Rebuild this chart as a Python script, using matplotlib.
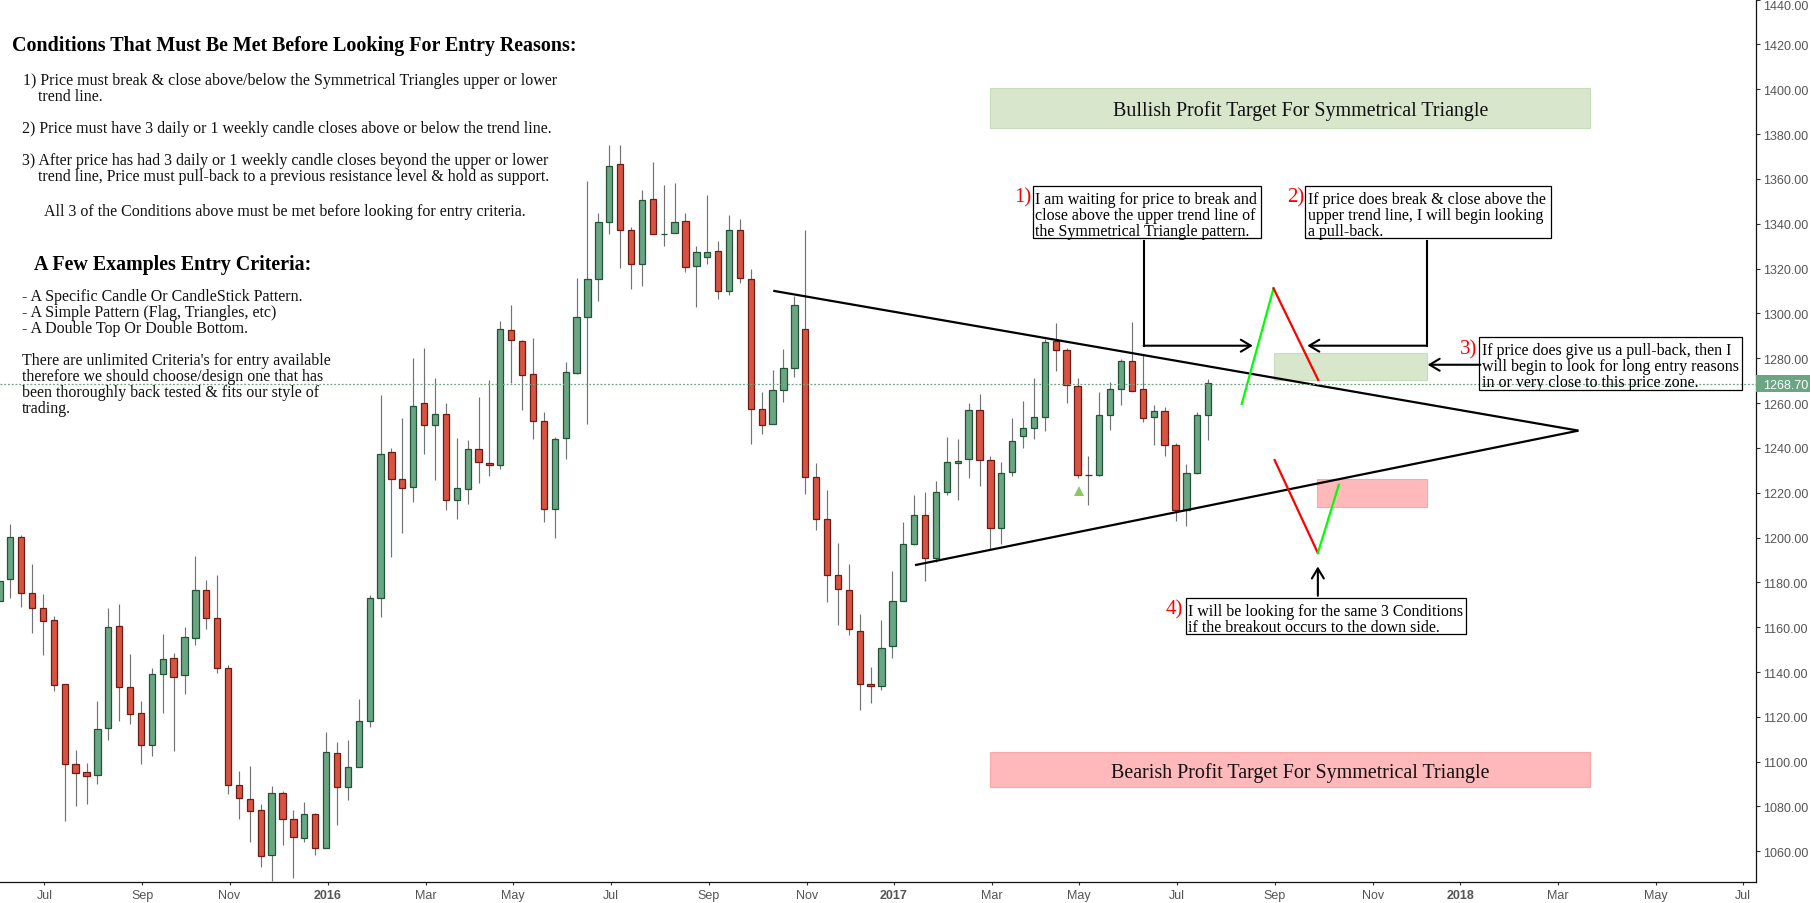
import matplotlib
matplotlib.use("Agg")
import matplotlib.pyplot as plt
from matplotlib.patches import Rectangle

W, H = 1810, 904
SERIF = "Liberation Serif"
SANS = "Liberation Sans"

# Weekly candles (index = week number): open, high, low, close
opens = [1171.6,1181.4,1200.1,1175.1,1168.4,1163.1,1134.5,1098.8,1095.3,1093.9,1114.9,1160.4,1133.2,1121.6,1107.3,1139.0,
         1146.1,1138.5,1155.1,1176.5,1164.0,1141.7,1089.5,1083.2,1078.3,1058.2,1085.9,1074.3,1065.8,1076.5,1061.3,1103.7,
         1088.6,1097.5,1118.0,1172.9,1238.1,1226.0,1222.4,1259.9,1250.1,1255.0,1216.6,1221.5,1239.4,1233.1,1232.2,1292.5,
         1287.6,1272.8,1251.9,1212.6,1244.3,1273.3,1298.3,1315.2,1340.7,1366.5,1337.1,1321.9,1350.9,1335.3,1335.7,1341.1,
         1321.0,1325.0,1327.7,1309.9,1337.1,1315.2,1257.2,1250.5,1265.7,1275.5,1292.9,1226.8,1208.1,1183.5,1176.4,1158.1,
         1134.5,1133.6,1151.4,1171.9,1196.9,1209.9,1190.7,1220.1,1233.1,1234.9,1256.7,1234.4,1204.1,1229.1,1245.1,1248.7,
         1254.0,1287.5,1283.9,1267.4,1228.0,1228.0,1254.9,1266.5,1278.6,1266.5,1253.6,1256.3,1241.1,1212.5,1228.6,1254.9]
highs = [1180.8,1206.1,1201.2,1188.2,1174.8,1164.9,1134.5,1105.2,1099.4,1127.1,1168.6,1170.4,1148.1,1127.1,1141.8,1157.0,
         1148.5,1160.1,1191.8,1181.1,1183.3,1143.2,1095.9,1098.1,1081.1,1089.2,1086.9,1078.5,1082.0,1077.1,1113.3,1108.8,
         1109.7,1128.0,1174.4,1263.6,1240.0,1253.3,1280.1,1284.6,1271.2,1259.9,1244.4,1243.5,1262.7,1270.3,1296.6,1303.8,
         1288.1,1289.0,1255.9,1244.7,1278.3,1315.8,1359.1,1344.8,1375.2,1375.2,1338.4,1355.1,1367.6,1357.3,1358.2,1344.8,
         1330.1,1352.8,1332.3,1343.9,1342.1,1319.8,1264.9,1274.8,1284.1,1307.9,1337.2,1233.1,1221.2,1197.5,1188.2,1165.8,
         1142.2,1163.2,1185.0,1206.9,1218.9,1220.3,1225.2,1244.8,1243.9,1260.0,1264.0,1236.6,1233.7,1253.3,1260.9,1271.2,
         1288.6,1295.7,1284.4,1271.2,1236.3,1264.9,1269.2,1279.6,1296.1,1281.3,1259.1,1258.2,1242.4,1232.8,1255.8,1270.7]
lows = [1171.6,1173.2,1169.2,1157.6,1147.8,1131.7,1073.7,1080.4,1081.3,1090.2,1109.8,1118.3,1116.8,1099.1,1102.7,1121.9,
        1104.9,1130.4,1152.2,1159.4,1139.7,1085.7,1074.6,1064.3,1053.2,1046.9,1063.0,1048.3,1064.3,1058.5,1061.3,1071.9,
        1083.1,1097.5,1115.6,1164.7,1191.5,1202.2,1216.0,1237.4,1225.8,1212.4,1208.4,1215.1,1224.5,1227.6,1230.7,1268.8,
        1257.1,1244.1,1207.1,1199.9,1235.2,1272.8,1250.8,1305.7,1335.6,1320.4,1311.1,1312.4,1335.3,1330.2,1335.7,1318.6,
        1303.0,1322.1,1306.6,1308.4,1313.7,1241.9,1246.4,1250.5,1260.6,1271.8,1219.6,1203.5,1171.3,1161.1,1156.6,1123.2,
        1126.3,1132.1,1146.4,1171.9,1196.5,1180.7,1188.9,1218.9,1216.9,1226.7,1223.1,1195.1,1197.2,1227.3,1240.1,1244.1,
        1247.7,1274.4,1260.1,1226.4,1214.6,1227.3,1248.1,1259.3,1265.2,1251.7,1241.4,1236.5,1207.5,1205.3,1228.2,1243.6]
closes = [1180.8,1200.1,1175.1,1168.4,1162.6,1134.1,1098.8,1094.8,1093.5,1114.4,1160.0,1133.2,1121.1,1107.3,1139.0,1145.7,
          1137.7,1155.5,1176.5,1164.0,1141.7,1089.5,1083.7,1077.9,1057.8,1085.9,1074.3,1066.3,1076.5,1061.3,1104.2,1088.6,
          1097.5,1118.0,1172.9,1237.2,1226.0,1222.0,1258.5,1250.1,1255.0,1216.6,1222.0,1239.4,1233.6,1232.2,1292.9,1288.0,
          1272.4,1251.9,1212.6,1243.8,1273.7,1298.3,1315.2,1340.7,1365.6,1337.1,1321.9,1350.5,1335.3,1335.3,1340.7,1320.6,
          1327.3,1327.3,1309.9,1337.1,1315.7,1257.2,1250.1,1265.7,1275.5,1303.6,1226.9,1208.1,1183.5,1176.9,1159.4,1134.5,
          1133.6,1150.5,1171.9,1196.9,1209.9,1190.7,1220.1,1233.5,1234.0,1256.7,1234.4,1204.1,1228.6,1242.9,1248.7,1253.6,
          1287.1,1283.9,1267.9,1227.7,1227.7,1254.9,1266.5,1278.6,1265.6,1253.2,1256.3,1241.1,1212.5,1228.6,1254.9,1268.8]
last_price = 1268.70

x_tick_weeks = [4, 13, 21, 30, 39, 47, 56, 65, 74, 82, 91, 99, 108, 117, 126, 134, 143, 152, 160]
x_tick_labels = ["Jul", "Sep", "Nov", "2016", "Mar", "May", "Jul", "Sep", "Nov", "2017", "Mar", "May", "Jul", "Sep",
                 "Nov", "2018", "Mar", "May", "Jul"]
y_ticks = list(range(1060, 1441, 20))

# Drawn tools in (week, price)
upper_trend_w, upper_trend_p = [71.06, 145.0], [1310.1, 1247.7]
lower_trend_w, lower_trend_p = [84.08, 145.0], [1187.7, 1247.7]
bull_up_w, bull_up_p = [114.08, 117.0], [1259.6, 1311.2]
bull_back_w, bull_back_p = [117.0, 121.1], [1311.2, 1270.3]
bear_down_w, bear_down_p = [117.1, 121.07], [1234.6, 1193.1]
bear_back_w, bear_back_p = [121.07, 123.0], [1193.1, 1223.6]
# zones: week start, week end, price low, price high
bull_target = (91.0, 146.1, 1382.9, 1400.4)
bear_target = (91.0, 146.1, 1088.8, 1104.2)
bull_zone = (117.0, 131.1, 1270.4, 1282.3)
bear_zone = (121.0, 131.05, 1213.5, 1226.0)
marker_w, marker_p = [99.17], [1220.9]
elbow1_w, elbow1_p = [105.07, 105.07], [1332.4, 1285.6]
elbow2_w, elbow2_p = [131.1, 131.1], [1332.2, 1285.6]
arrows = [((105.07, 1285.6), (115.1, 1285.6)), ((131.1, 1285.6), (120.1, 1285.6)),
          ((136.0, 1277.1), (131.15, 1277.1)), ((121.07, 1174.0), (121.07, 1187.1))]

# Text (x px, y centre px, string)
body_lines = [
    (23, 79, "1) Price must break & close above/below the Symmetrical Triangles upper or lower"),
    (38, 95, "trend line."),
    (22, 127, "2) Price must have 3 daily or 1 weekly candle closes above or below the trend line."),
    (22, 159, "3) After price has had 3 daily or 1 weekly candle closes beyond the upper or lower"),
    (38, 175, "trend line, Price must pull-back to a previous resistance level & hold as support."),
    (44, 210, "All 3 of the Conditions above must be met before looking for entry criteria."),
    (22, 295, "- A Specific Candle Or CandleStick Pattern."),
    (22, 311, "- A Simple Pattern (Flag, Triangles, etc)"),
    (22, 327, "- A Double Top Or Double Bottom."),
    (22, 359, "There are unlimited Criteria's for entry available"),
    (22, 375, "therefore we should choose/design one that has"),
    (22, 391, "been thoroughly back tested & fits our style of"),
    (22, 407, "trading."),
]
headings = [(11.5, 43, "Conditions That Must Be Met Before Looking For Entry Reasons:"),
            (33.7, 263, "A Few Examples Entry Criteria:")]
boxes = [
    (1032.5, 186.7, 1261.4, 239.3, ["I am waiting for price to break and", "close above the upper trend line of",
                                    "the Symmetrical Triangle pattern."]),
    (1305.3, 186.7, 1550.6, 239.3, ["If price does break & close above the", "upper trend line, I will begin looking",
                                    "a pull-back."]),
    (1479.3, 338.3, 1742.3, 391.3, ["If price does give us a pull-back, then I", "will begin to look for long entry reasons",
                                    "in or very close to this price zone."]),
    (1185.6, 598.7, 1466.4, 635.3, ["I will be looking for the same 3 Conditions", "if the breakout occurs to the down side."]),
]
step_labels = [(1014, 195, "1)"), (1287, 195, "2)"), (1460, 347, "3)"), (1166, 607, "4)")]
target_labels = [(1300.4, 108.7, "Bullish Profit Target For Symmetrical Triangle"),
                 (1300.4, 770.5, "Bearish Profit Target For Symmetrical Triangle")]

UP, UP_E = "#6BA583", "#225437"
DN, DN_E = "#D75442", "#6F1C14"
WICK = "#737375"
TICK = "#555555"
SCALE = 10.89
X0 = -0.6
AX_R = 1755.5
AX_B = 883

fig = plt.figure(figsize=(W / 100, H / 100), dpi=100, facecolor="white")
ax = fig.add_axes([0, (H - AX_B) / H, AX_R / W, AX_B / H])
ax.set_xlim((0 - X0) / SCALE, (AX_R - X0) / SCALE)
ax.set_ylim(1046.3, 1440.3)

weeks = list(range(len(opens)))
ax.vlines(weeks, lows, highs, colors=WICK, linewidth=0.85, zorder=2)
for w, o, c in zip(weeks, opens, closes):
    up = c >= o
    ax.bar(w, c - o, bottom=o, width=0.58, color=UP if up else DN,
           edgecolor=UP_E if up else DN_E, linewidth=0.9, zorder=3)

ax.axhline(last_price, color=UP, linewidth=0.9, linestyle=(0, (1.5, 1.5)), zorder=7)

for (a, b, lo, hi), fc, ec in [(bull_target, "#D8E6CC", "#C6DEB8"), (bull_zone, "#D8E6CC", "#C6DEB8"),
                               (bear_target, "#FFB9BB", "#FFA5A5"), (bear_zone, "#FFB9BB", "#FFA5A5")]:
    ax.add_patch(Rectangle((a, lo), b - a, hi - lo, facecolor=fc, edgecolor=ec, linewidth=0.8, zorder=1))

ax.plot(upper_trend_w, upper_trend_p, color="black", lw=1.6, zorder=5, solid_capstyle="butt")
ax.plot(lower_trend_w, lower_trend_p, color="black", lw=1.6, zorder=5, solid_capstyle="butt")
ax.plot(bull_up_w, bull_up_p, color="#00FF00", lw=1.6, zorder=6)
ax.plot(bull_back_w, bull_back_p, color="#FF0000", lw=1.6, zorder=6)
ax.plot(bear_down_w, bear_down_p, color="#FF0000", lw=1.6, zorder=6)
ax.plot(bear_back_w, bear_back_p, color="#00FF00", lw=1.6, zorder=6)
ax.plot(marker_w, marker_p, marker="^", ms=7.5, color="#8CC864", linestyle="none", markeredgewidth=0, zorder=6)
ax.plot(elbow1_w, elbow1_p, color="black", lw=1.5, zorder=6, solid_capstyle="projecting")
ax.plot(elbow2_w, elbow2_p, color="black", lw=1.5, zorder=6, solid_capstyle="projecting")
for start, end in arrows:
    ax.annotate("", xy=end, xytext=start, zorder=6,
                arrowprops=dict(arrowstyle="->,head_length=0.72,head_width=0.43", mutation_scale=10,
                                color="black", lw=1.5, shrinkA=0, shrinkB=0))

for s in ("top", "left"):
    ax.spines[s].set_visible(False)
for s in ("right", "bottom"):
    ax.spines[s].set_color("#111111")
    ax.spines[s].set_linewidth(0.9)

ax.yaxis.tick_right()
ax.set_yticks(y_ticks)
ax.set_yticklabels([f"{v:.2f}" for v in y_ticks])
ax.set_xticks([w + 0.13 for w in x_tick_weeks])
ax.set_xticklabels(x_tick_labels)
ax.tick_params(axis="y", length=3, width=0.8, color="#333333", pad=2.2, labelsize=9, labelcolor=TICK)
ax.tick_params(axis="x", length=2.4, width=0.8, color="#333333", pad=2.5, labelsize=9, labelcolor=TICK)
for t in ax.get_yticklabels() + ax.get_xticklabels():
    t.set_fontfamily(SANS)
for t in ax.get_xticklabels():
    if t.get_text().isdigit():
        t.set_fontweight("bold")
for t in ax.get_yticklabels():
    if t.get_text() == "1440.00":
        t.set_verticalalignment("top")

# Last price tag
ytrans = ax.get_yaxis_transform()
ax.add_patch(Rectangle((1.0, last_price - 3.72), 54.5 / AX_R, 7.45, transform=ytrans, facecolor=UP,
                       edgecolor="none", clip_on=False, zorder=8))
ax.text(1.0 + 7.2 / AX_R, last_price, f"{last_price:.2f}", transform=ytrans, color="white", family=SANS,
        fontsize=9, va="center_baseline", ha="left", zorder=9, clip_on=False)

# Overlay in pixel space for the write-up text
ov = fig.add_axes([0, 0, 1, 1], facecolor="none")
ov.set_xlim(0, W)
ov.set_ylim(H, 0)
ov.axis("off")

for x, y, s in body_lines:
    ov.text(x, y, s, family=SERIF, fontsize=11.5, va="center_baseline", ha="left", color="#111111")
for x, y, s in headings:
    ov.text(x, y, s, family=SERIF, fontsize=14.4, fontweight="bold", va="center_baseline", ha="left", color="black")
for x0, y0, x1, y1, lines in boxes:
    ov.add_patch(Rectangle((x0, y0), x1 - x0, y1 - y0, facecolor="none", edgecolor="black", linewidth=0.9))
    for k, line in enumerate(lines):
        ov.text(x0 + 2.5, y0 + 11 + 16 * k, line, family=SERIF, fontsize=11.5, va="center_baseline",
                ha="left", color="black")
for x, y, s in step_labels:
    ov.text(x, y, s, family=SERIF, fontsize=15, color="#FF0000", va="center_baseline", ha="left")
for x, y, s in target_labels:
    ov.text(x, y, s, family=SERIF, fontsize=14.4, color="#111111", va="center_baseline", ha="center")

fig.savefig("out.png", dpi=100)
